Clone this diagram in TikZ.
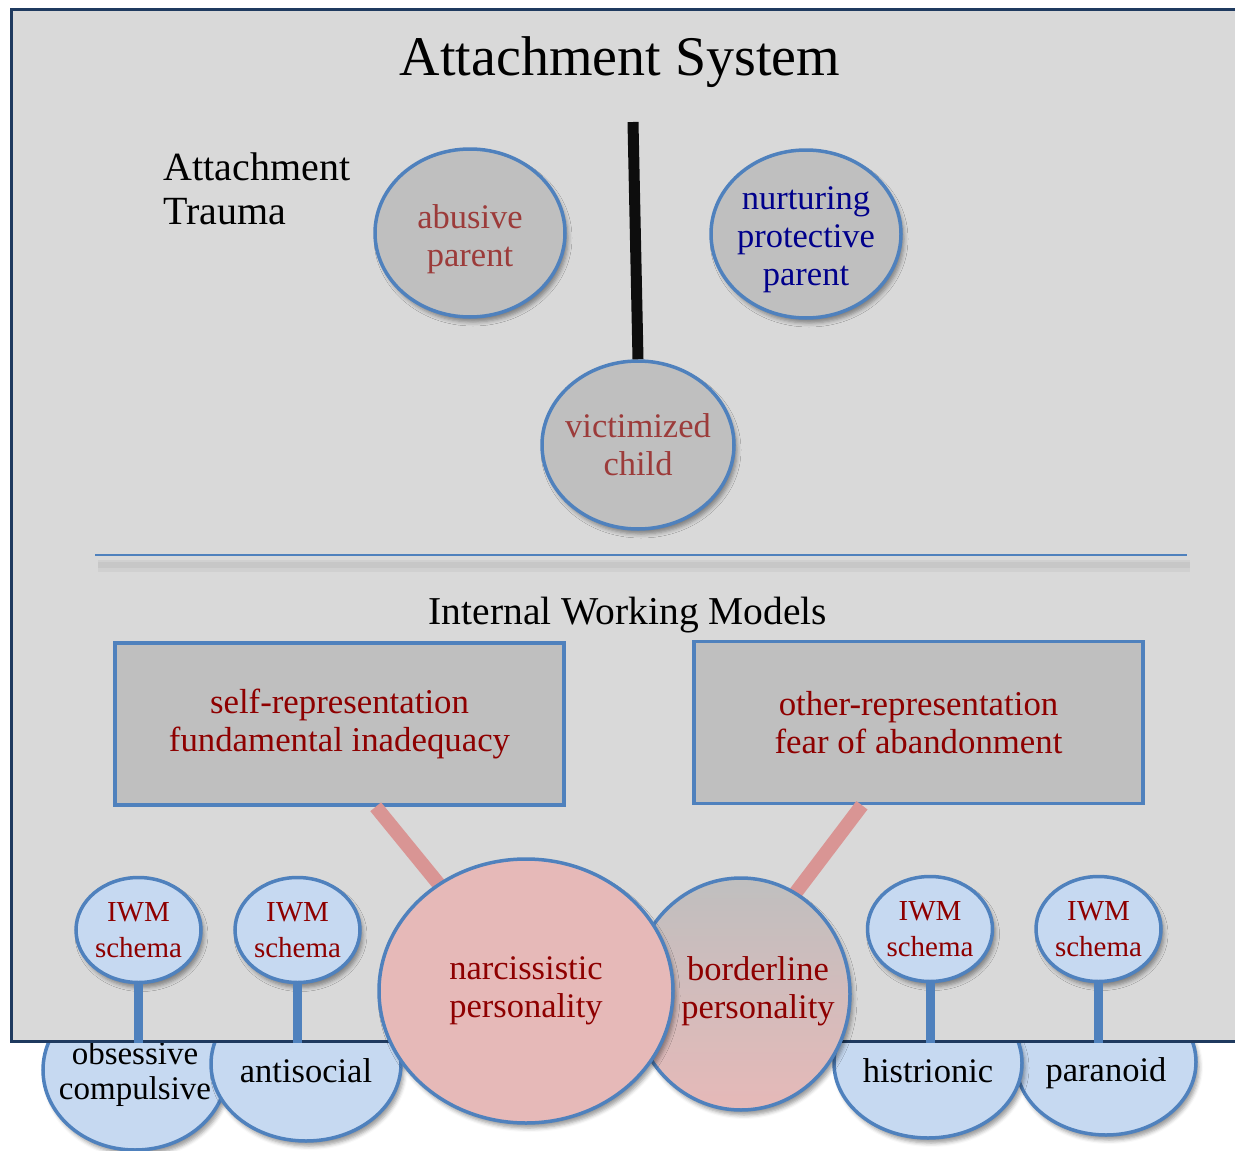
\documentclass[tikz,border=0pt]{standalone}
\usepackage{fontspec}
\setmainfont{Liberation Serif}
\usetikzlibrary{positioning}
\usetikzlibrary{shapes}
\usetikzlibrary{calc}
\usetikzlibrary{shadows.blur}
\definecolor{framegray}{HTML}{D9D9D9}
\definecolor{framenavy}{HTML}{1F3A5F}
\definecolor{boxgray}{HTML}{BFBFBF}
\definecolor{bordblue}{HTML}{4F81BD}
\definecolor{lightblue}{HTML}{C6D9F1}
\definecolor{pinkfill}{HTML}{E6B9B8}
\definecolor{pinkline}{HTML}{D99594}
\definecolor{darkred}{HTML}{8E0000}
\definecolor{rustred}{HTML}{9C3B3A}
\definecolor{navytext}{HTML}{00008B}

\begin{document}
\begin{tikzpicture}[x=1pt, y=-1pt,
    sh/.style={blur shadow={shadow xshift=3pt, shadow yshift=-5pt, shadow blur radius=4pt, shadow opacity=40}},
    bub/.style={ellipse, draw=bordblue, line width=3.5pt, inner sep=-10pt, align=center, font=\fontsize{34.5}{38}\selectfont, sh},
    lbl/.style={align=center, inner sep=0pt, font=\fontsize{34.5}{38}\selectfont},
    grayb/.style={bub, fill=boxgray, minimum width=190pt, minimum height=168pt},
    lowb/.style={bub, fill=lightblue, text=black},
    iwm/.style={bub, fill=lightblue, text=darkred, minimum width=125pt, minimum height=105pt, font=\fontsize{29}{36}\selectfont},
    rep/.style={rectangle, draw=bordblue, fill=boxgray, line width=3.5pt, minimum width=449pt, minimum height=162pt, align=center, text=darkred, font=\fontsize{34.8}{38}\selectfont},
    link/.style={pinkline, line width=14pt},
    stem/.style={bordblue, line width=9pt}]
    \useasboundingbox (0,0) rectangle (1235,1151);

    \node[lowb, minimum width=184pt, minimum height=160pt, label={[lbl, name=obsessivet, yshift=-4pt, font=\fontsize{33}{35}\selectfont]center:obsessive\\compulsive}] (obsessive) at (135,1070) {};
    \node[lowb, minimum width=190pt, minimum height=154pt, label={[lbl, name=antisocialt, yshift=-7pt]center:antisocial}] (antisocial) at (306,1064) {};
    \node[lowb, minimum width=180pt, minimum height=146pt, label={[lbl, name=paranoidt, yshift=-11pt]center:paranoid}] (paranoid) at (1106,1062) {};
    \node[lowb, minimum width=188pt, minimum height=150pt, label={[lbl, name=histrionict, yshift=-8pt]center:histrionic}] (histrionic) at (928,1063) {};

    \node[rectangle, draw=framenavy, fill=framegray, line width=3pt, anchor=north west, minimum width=1240pt, minimum height=1032pt] (frame) at (10,8) {};

    \node[font=\fontsize{56}{60}\selectfont] (title) at (620,62) {Attachment System};
    \node[font=\fontsize{40}{44}\selectfont, align=left, anchor=west] (trauma) at (160,189) {Attachment\\Trauma};

    \node[grayb, label={[lbl, name=abusivet, text=rustred, yshift=-6.5pt]center:abusive\\parent}] (abusive) at (470,233) {};
    \node[grayb, label={[lbl, name=nurturingt, text=navytext, yshift=-6pt]center:nurturing\\protective\\parent}] (nurturing) at (806,234) {};
    \node[grayb, text=rustred, minimum width=192pt] (child) at (638,445) {victimized\\child};
    \coordinate (stick) at (633,122);
    \draw[black!95, line width=11pt] (stick) -- (child.north);

    \draw[black, opacity=0.04, line width=12pt] (98,566) -- (1190,566);
    \draw[black, opacity=0.04, line width=6pt] (98,565) -- (1190,565);
    \draw[bordblue, line width=2.5pt] (95,555) -- (1187,555);

    \node[font=\fontsize{39.5}{42}\selectfont] (iwmtitle) at (628,615) {Internal Working Models};
    \node[rep] (selfrep) at (339.5,724) {self-representation\\fundamental inadequacy};
    \node[rep] (otherrep) at (918.5,722.5) {other-representation\\fear of abandonment};

    \coordinate (narcc) at (526,991);
    \coordinate (bordc) at (741,994);
    \coordinate (bordaim) at (719,994);
    \draw[link] ($(selfrep.south west)!0.58!(selfrep.south east)$) -- (narcc);
    \draw[link] ($(otherrep.south west)!0.375!(otherrep.south east)$) -- (bordaim);

    \node[bub, top color=boxgray, bottom color=pinkfill, minimum width=218pt, minimum height=232pt, label={[lbl, name=borderlinet, text=darkred, xshift=17pt, yshift=2.5pt]center:borderline\\personality}] (borderline) at (bordc) {};
    \node[bub, fill=pinkfill, minimum width=294pt, minimum height=264pt, text=darkred] (narc) at (narcc) {narcissistic\\personality};

    \node[iwm] (iwm1) at (138.5,930) {IWM\\schema};
    \node[iwm] (iwm2) at (297.5,930) {IWM\\schema};
    \node[iwm] (iwm3) at (930,929) {IWM\\schema};
    \node[iwm] (iwm4) at (1098.5,929) {IWM\\schema};

    \draw[stem] (iwm1.south) -- (iwm1.south |- frame.south);
    \draw[stem] (iwm2.south) -- (iwm2.south |- frame.south);
    \draw[stem] (iwm3.south) -- (iwm3.south |- frame.south);
    \draw[stem] (iwm4.south) -- (iwm4.south |- frame.south);
\end{tikzpicture}
\end{document}
